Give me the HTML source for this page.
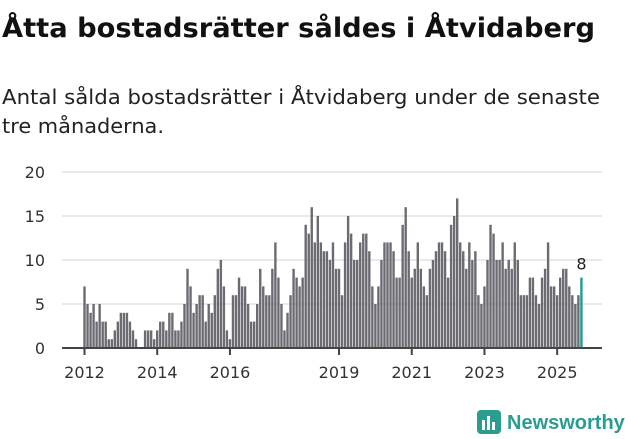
<!DOCTYPE html>
<html><head><meta charset="utf-8">
<style>
body{margin:0;width:631px;height:439px;background:#fff;font-family:"DejaVu Sans",sans-serif;overflow:hidden}
svg{position:absolute;left:0;top:0}
</style></head><body>
<svg width="631" height="150">
<text x="2" y="37" font-size="27" font-weight="bold" fill="#111" textLength="593" lengthAdjust="spacingAndGlyphs" font-family="DejaVu Sans, sans-serif">Åtta bostadsrätter såldes i Åtvidaberg</text>
<text x="2" y="104" font-size="20" fill="#222" textLength="598" lengthAdjust="spacingAndGlyphs" font-family="DejaVu Sans, sans-serif">Antal sålda bostadsrätter i Åtvidaberg under de senaste</text>
<text x="2" y="133" font-size="20" fill="#222" textLength="162" lengthAdjust="spacingAndGlyphs" font-family="DejaVu Sans, sans-serif">tre månaderna.</text>
</svg>
<svg id="chart" width="631" height="439"></svg>
<script>
const values = [
7,5,4,5,3,5,3,3,1,1,2,3,
4,4,4,3,2,1,0,0,2,2,2,1,
2,3,3,2,4,4,2,2,3,5,9,7,
4,5,6,6,3,5,4,6,9,10,7,2,
1,6,6,8,7,7,5,3,3,5,9,7,
6,6,9,12,8,5,2,4,6,9,8,7,
8,14,13,16,12,15,12,11,11,10,12,9,
9,6,12,15,13,10,10,12,13,13,11,7,
5,7,10,12,12,12,11,8,8,14,16,11,
8,9,12,9,7,6,9,10,11,12,12,11,
8,14,15,17,12,11,9,12,10,11,6,5,
7,10,14,13,10,10,12,9,10,9,12,10,
6,6,6,8,8,6,5,8,9,12,7,7,
6,8,9,9,7,6,5,6,8];
const yTicks = [0,5,10,15,20];
const xTickYears = [2012,2014,2016,2019,2021,2023,2025];
const startYear = 2012;
const NS="http://www.w3.org/2000/svg";
const svg=document.getElementById('chart');
const x0=84.5, step=3.03, yBase=348, yPer=8.8;
function xS(i){return x0+i*step;}
function yS(v){return yBase-v*yPer;}
function mk(t,a){const e=document.createElementNS(NS,t);for(const k in a)e.setAttribute(k,a[k]);svg.appendChild(e);return e;}
yTicks.forEach(v=>{
  if(v>0){const g=mk('line',{x1:62,x2:602,y1:yS(v),y2:yS(v),stroke:'#e2e2e2','stroke-width':1.5});
  
  }
  const t=mk('text',{x:45,y:yS(v)+6,'text-anchor':'end','font-size':16,fill:'#333','font-family':'DejaVu Sans, sans-serif'});
  t.textContent=v;
  
  
});
values.forEach((v,i)=>{
  const last=i===values.length-1;
  const r=mk('rect',{x:xS(i)-1.2,y:yS(v),width:2.4,height:v*yPer,fill:last?'#1a9e8f':'#6d6b72'});
  
  
});
const li=values.length-1;
const lbl=mk('text',{x:xS(li),y:yS(values[li])-8,'text-anchor':'middle','font-size':16,fill:'#222','font-family':'DejaVu Sans, sans-serif'});
lbl.textContent=values[li];


const ax=mk('line',{x1:62,x2:602,y1:yBase,y2:yBase,stroke:'#444','stroke-width':2});


xTickYears.forEach(yr=>{
  const i=(yr-startYear)*12;
  const tk=mk('line',{x1:xS(i),x2:xS(i),y1:yBase,y2:yBase+7,stroke:'#444','stroke-width':2});
  
  
  const t=mk('text',{x:xS(i),y:378,'text-anchor':'middle','font-size':16,fill:'#333','font-family':'DejaVu Sans, sans-serif'});
  t.textContent=yr;
  
  
});
</script>
<svg width="631" height="439">
<rect x="477" y="410" width="24" height="24" rx="4" fill="#2a9d8f"/>
<rect x="482" y="420" width="3" height="10" fill="#fff"/><rect x="487" y="416" width="3" height="14" fill="#fff"/><rect x="492" y="422" width="3" height="8" fill="#fff"/>
<text x="507" y="429" font-size="20" font-weight="bold" fill="#2a9d8f" font-family="Liberation Sans, sans-serif">Newsworthy</text>
</svg>
</body></html>
